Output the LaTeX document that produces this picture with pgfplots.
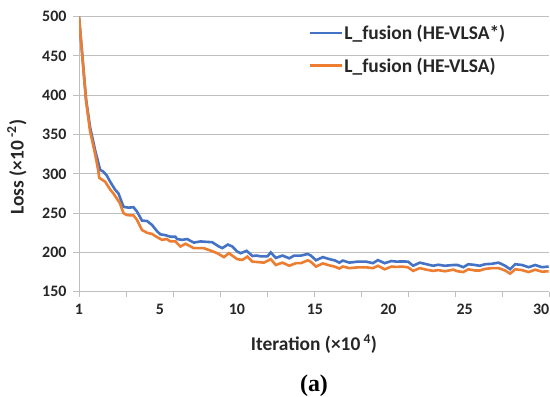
\documentclass[border=0pt]{standalone}
\usepackage{pgfplots}
\pgfplotsset{compat=1.18}
\usepackage{fontspec}
\setmainfont{Carlito}
\newfontfamily\timesf{Liberation Serif}
\definecolor{xblue}{HTML}{4472C4}
\definecolor{xorange}{HTML}{ED7D31}
\definecolor{gridc}{RGB}{191,191,191}
\begin{document}
\begin{tikzpicture}
\begin{axis}[name=ax, scale only axis, width=470bp, height=275bp,
  xmin=0, xmax=30, ymin=150, ymax=500,
  axis x line=bottom, axis y line=left,
  axis line style={-, gridc, line width=1bp},
  ytick={150,200,...,500},
  ymajorgrids, grid style={gridc, line width=1bp},
  xtick={0,5.17,10.08,15.06,19.75,24.62,29.5}, xticklabels={1,5,10,15,20,25,30},
  xtick style={draw=none},
  ytick style={gridc, line width=1bp},
  tick align=outside, major tick length=6bp,
  extra x ticks={0,3,...,30}, extra x tick labels={},
  extra x tick style={grid=none, xtick style={gridc, line width=1bp, draw=gridc}, major tick length=5bp},
  /pgf/number format/assume math mode=true,
  tick label style={font=\fontsize{16}{18}\selectfont\bfseries, text=black!85},
  xticklabel style={yshift=-3bp},
  yticklabel style={xshift=-3bp},
  xlabel={Iteration (\texttimes10\,\textsuperscript{4})},
  xlabel style={font=\fontsize{19.5}{22}\selectfont\bfseries, text=black!85, at={(axis description cs:0.5,0)}, anchor=center, yshift=-52.5bp},
  ylabel={Loss (\texttimes10\,\textsuperscript{-2})},
  ylabel style={font=\fontsize{19.5}{22}\selectfont\bfseries, text=black!85, at={(axis description cs:-0.132,0.453)}, anchor=center},
  legend image code/.code={\draw[#1] (0bp,0bp) -- (32bp,0bp);},
  legend style={draw=none, fill=none, inner sep=0pt, outer sep=0pt, at={(axis description cs:0.489,0.969)}, anchor=north west,
    font=\fontsize{19.5}{22}\selectfont\bfseries, text=black!85,
    nodes={inner sep=0pt, outer sep=0pt}, column sep=1bp, row sep=16.5bp},
  legend cell align=left,
]
\addplot[xblue, line width=2.6bp] coordinates {
(0,500) (0.45,395) (0.7,360) (1.03,330) (1.35,305) (1.54,303) (1.77,298) (1.99,290) (2.3,280) (2.52,275)
(2.84,258) (3.16,257) (3.48,257.5) (3.7,252) (4.02,240.5) (4.34,240) (4.66,235) (4.98,227) (5.19,223) (5.51,222)
(5.83,220) (6.15,220) (6.26,217) (6.58,216) (6.9,217) (7.33,212.5) (7.76,214) (8.08,213.5) (8.5,213) (8.93,207.5)
(9.15,205.5) (9.5,210) (9.79,207.5) (10.1,201) (10.32,199) (10.7,202) (11.07,195.5) (11.35,196) (11.6,195) (12.03,195)
(12.24,200) (12.56,193) (12.99,196) (13.42,192.5) (13.74,196) (14.17,196) (14.6,198) (14.8,196) (15.13,190) (15.56,194)
(15.98,191.5) (16.3,190) (16.62,187) (16.84,189.6) (17.26,187) (17.8,188.3) (18.33,188.3) (18.76,186.3) (19.08,190.2) (19.51,186.3)
(19.94,189) (20.26,188.3) (20.64,188.5) (21.0,188.3) (21.33,183) (21.75,187) (22.18,185) (22.61,183) (22.93,184.3) (23.35,183)
(23.89,184) (24.17,184) (24.53,181.2) (24.85,185) (25.28,184) (25.58,183) (25.92,185) (26.35,185.5) (26.78,187) (27.2,183)
(27.52,178.6) (27.84,185) (28.27,184) (28.7,181.2) (29.12,184) (29.55,181.2) (29.98,182)
};
\addlegendentry{L\_fusion (HE-VLSA*)}
\addplot[xorange, line width=2.6bp] coordinates {
(0,500) (0.45,393) (0.7,355) (1.03,325) (1.24,303) (1.29,295) (1.67,290) (1.99,280) (2.2,275) (2.4,269)
(2.6,263) (2.84,250) (3.06,247.5) (3.48,247) (3.7,241.5) (4.02,228.5) (4.34,225) (4.66,223.5) (4.98,219.5) (5.3,216)
(5.6,217) (5.83,214) (6.15,214) (6.47,207.5) (6.8,211) (7.33,205.4) (7.97,205.4) (8.4,202.3) (8.83,199) (9.25,194)
(9.57,199) (10.1,191.4) (10.43,190.5) (10.75,194.7) (11.07,188.3) (11.81,187) (12.24,191.4) (12.56,184) (12.99,187) (13.42,183)
(13.85,186.3) (14.17,186.3) (14.6,190) (14.8,188) (15.13,182) (15.56,186) (15.98,183.5) (16.3,182) (16.62,179.5) (16.84,182)
(17.26,180) (17.8,181) (18.33,181) (18.76,180) (19.08,183) (19.51,178.5) (19.94,182) (20.26,181.5) (20.64,182) (21.0,181)
(21.33,176.5) (21.75,180) (22.18,178) (22.61,176.5) (22.93,177.5) (23.35,176) (23.89,178) (24.17,176) (24.53,175) (24.85,178.5)
(25.28,177) (25.58,177) (25.92,179) (26.35,180) (26.78,180) (27.2,177) (27.52,173) (27.84,178.5) (28.27,177.5) (28.7,175)
(29.12,178) (29.55,175.5) (29.98,176)
};
\addlegendentry{L\_fusion (HE-VLSA)}
\end{axis}
\node[font=\timesf\fontsize{24}{26}\selectfont\bfseries] at ([yshift=-94bp]ax.south) {(a)};
\pgfresetboundingbox
\path[use as bounding box] ([xshift=-79bp,yshift=-105.3bp]ax.south west) rectangle ([xshift=1bp,yshift=16.7bp]ax.north east);
\end{tikzpicture}
\end{document}
